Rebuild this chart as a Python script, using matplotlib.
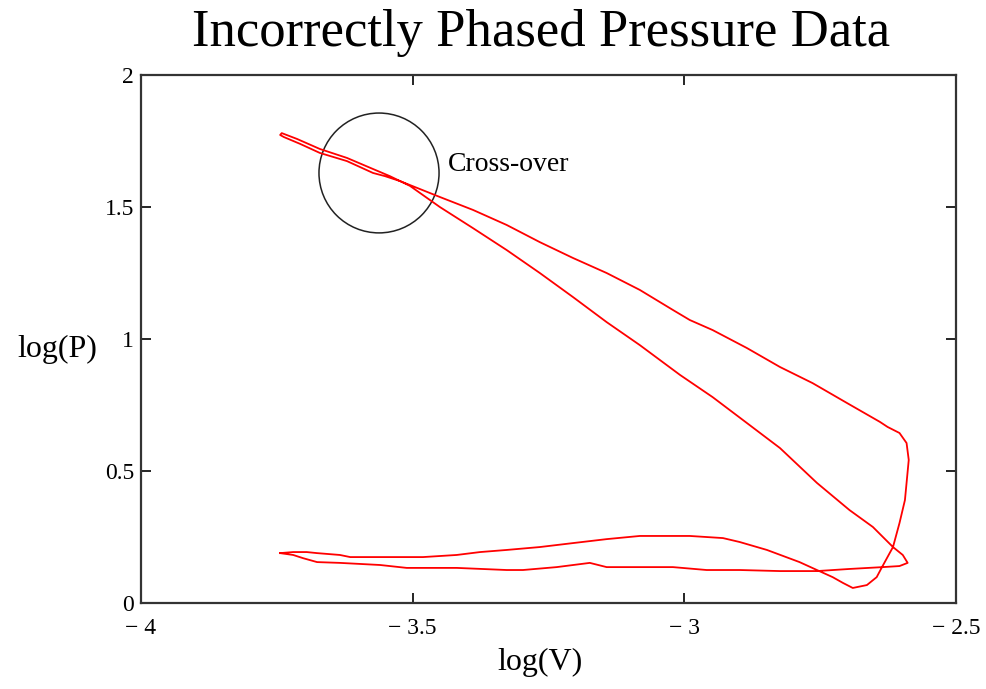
import numpy as np
import matplotlib
matplotlib.use("Agg")
import matplotlib.pyplot as plt
from matplotlib.patches import Ellipse

# bottom loop, upper branch (left tip -> right, then up the right edge)
bump_v = [-3.744, -3.720, -3.695, -3.676, -3.634, -3.615, -3.481, -3.419, -3.376, -3.327,
          -3.266, -3.205, -3.143, -3.082, -2.990, -2.929, -2.898, -2.848, -2.788, -2.756,
          -2.727, -2.708, -2.690, -2.664, -2.646, -2.637, -2.616, -2.604, -2.594, -2.591,
          -2.587]
bump_p = [0.189, 0.193, 0.193, 0.189, 0.182, 0.174, 0.174, 0.182, 0.193, 0.201,
          0.212, 0.227, 0.242, 0.254, 0.254, 0.246, 0.231, 0.201, 0.155, 0.125,
          0.098, 0.076, 0.057, 0.068, 0.098, 0.133, 0.212, 0.303, 0.390, 0.455,
          0.542]

# upper diagonal (right -> tip at top left)
upper_v = [-2.591, -2.604, -2.626, -2.640, -2.701, -2.764, -2.824, -2.885, -2.948, -2.990,
           -3.021, -3.082, -3.143, -3.205, -3.266, -3.327, -3.389, -3.450, -3.523, -3.551,
           -3.573, -3.621, -3.671, -3.707, -3.737, -3.744]
upper_p = [0.606, 0.644, 0.667, 0.686, 0.758, 0.833, 0.894, 0.966, 1.034, 1.072,
           1.110, 1.186, 1.250, 1.307, 1.367, 1.432, 1.489, 1.538, 1.598, 1.617,
           1.629, 1.674, 1.705, 1.739, 1.765, 1.773]

# lower diagonal (tip -> small loop at bottom right)
lower_v = [-3.741, -3.713, -3.671, -3.621, -3.573, -3.542, -3.505, -3.450, -3.389, -3.327,
           -3.266, -3.205, -3.143, -3.082, -3.008, -2.948, -2.885, -2.824, -2.756, -2.696,
           -2.653, -2.616, -2.598, -2.589]
lower_p = [1.780, 1.758, 1.720, 1.686, 1.644, 1.617, 1.580, 1.500, 1.420, 1.337,
           1.250, 1.159, 1.064, 0.977, 0.864, 0.780, 0.682, 0.587, 0.455, 0.352,
           0.288, 0.212, 0.182, 0.152]

# bottom loop, flat branch (right -> left tip)
flat_v = [-2.604, -2.635, -2.696, -2.756, -2.824, -2.898, -2.959, -3.021, -3.143, -3.174,
          -3.235, -3.297, -3.327, -3.419, -3.511, -3.560, -3.634, -3.676, -3.702, -3.720,
          -3.744]
flat_p = [0.140, 0.136, 0.129, 0.121, 0.121, 0.125, 0.125, 0.136, 0.136, 0.152,
          0.136, 0.125, 0.125, 0.133, 0.133, 0.144, 0.152, 0.155, 0.170, 0.182,
          0.189]

x_ticks = [-4, -3.5, -3, -2.5]
x_labels = ["\u2212 4", "\u2212 3.5", "\u2212 3", "\u2212 2.5"]
y_ticks = [0, 0.5, 1, 1.5, 2]
y_labels = ["0", "0.5", "1", "1.5", "2"]

circle_center = (-3.562, 1.629)

log_v = np.concatenate([bump_v, upper_v, lower_v, flat_v])
log_p = np.concatenate([bump_p, upper_p, lower_p, flat_p])

plt.rcParams['font.family'] = ['Liberation Serif', 'DejaVu Serif']

fig = plt.figure(figsize=(9.87, 6.89), dpi=100)
ax = fig.add_axes([0.1429, 0.1248, 0.8257, 0.7663])

ax.plot(log_v, log_p, color='#ff0000', lw=1.3)

ax.add_patch(Ellipse(circle_center, 0.221, 0.454, fill=False, ec='#222222', lw=1.1))
ax.text(-3.435, 1.66, "Cross-over", fontsize=20, va='center', ha='left')

ax.set_xlim(-4, -2.5)
ax.set_ylim(0, 2)
ax.set_xticks(x_ticks)
ax.set_xticklabels(x_labels)
ax.set_yticks(y_ticks)
ax.set_yticklabels(y_labels)
ax.tick_params(direction='in', length=7, width=1.2, top=True, right=True,
               labelsize=17)
ax.tick_params(axis='x', pad=11)
ax.tick_params(axis='y', pad=5)
for s in ax.spines.values():
    s.set_linewidth(1.6)
    s.set_color('#333333')

fig.text(0.548, 0.933, "Incorrectly Phased Pressure Data", fontsize=38,
         ha='center', va='baseline')
fig.text(0.547, 0.028, "log(V)", fontsize=23, ha='center', va='baseline')
fig.text(0.058, 0.482, "log(P)", fontsize=23, ha='center', va='baseline')

fig.savefig("out.png", dpi=100)
